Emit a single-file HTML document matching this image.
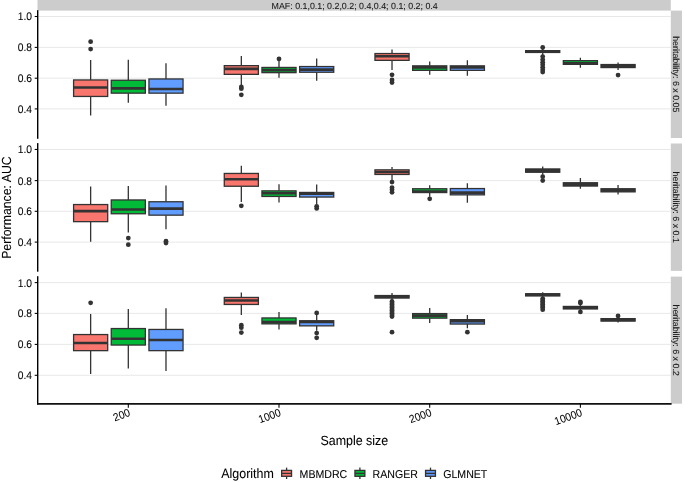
<!DOCTYPE html>
<html lang="en"><head><meta charset="utf-8"><title>Performance: AUC by sample size</title>
<style>html,body{margin:0;padding:0;background:#fff}svg{display:block}text{font-family:"Liberation Sans",Arial,Helvetica,sans-serif;fill:#000;text-rendering:geometricPrecision;stroke:#000;stroke-width:0.06px;stroke-linejoin:round}.at{font-size:10.3px}.lt{font-size:10.6px}.st{font-size:8.86px;fill:#1a1a1a;stroke:#1a1a1a;stroke-width:0.08px}.ti{font-size:12.45px}</style></head><body>
<svg width="685" height="482" viewBox="0 0 685 482">
<rect width="685" height="482" fill="#fff"/>
<rect x="37.5" y="-5" width="633.3" height="15.6" fill="#CCCCCC"/>
<text class="st" x="354.65" y="8.7" text-anchor="middle">MAF: 0.1,0.1; 0.2,0.2; 0.4,0.4; 0.1; 0.2; 0.4</text>
<rect x="670.8" y="10.6" width="11.20" height="127.40" fill="#CCCCCC"/>
<text class="st" transform="translate(673.2,74.30) rotate(90)" text-anchor="middle">heritability: 6 x 0.05</text>
<line x1="37.9" x2="670.8" y1="16.5" y2="16.5" stroke="#E2E2E2" stroke-width="0.8"/>
<line x1="37.9" x2="670.8" y1="47.4" y2="47.4" stroke="#E2E2E2" stroke-width="0.8"/>
<line x1="37.9" x2="670.8" y1="78.2" y2="78.2" stroke="#E2E2E2" stroke-width="0.8"/>
<line x1="37.9" x2="670.8" y1="108.9" y2="108.9" stroke="#E2E2E2" stroke-width="0.8"/>
<circle cx="90.64" cy="41.7" r="2.4" fill="#333333"/>
<circle cx="90.64" cy="49.1" r="2.4" fill="#333333"/>
<path d="M90.64 60.1V79.95M90.64 96.45V115.5" stroke="#333333" stroke-width="1.3" fill="none"/>
<rect x="73.59" y="79.95" width="34.1" height="16.50" fill="#F8766D" stroke="#333333" stroke-width="1.3"/>
<line x1="73.59" x2="107.69" y1="87.5" y2="87.5" stroke="#333333" stroke-width="2.6"/>
<path d="M128.31 59.8V80.25M128.31 93.15V102.7" stroke="#333333" stroke-width="1.3" fill="none"/>
<rect x="111.26" y="80.25" width="34.1" height="12.90" fill="#00BA38" stroke="#333333" stroke-width="1.3"/>
<line x1="111.26" x2="145.36" y1="88.4" y2="88.4" stroke="#333333" stroke-width="2.6"/>
<path d="M165.99 63.3V78.95M165.99 93.15V105.7" stroke="#333333" stroke-width="1.3" fill="none"/>
<rect x="148.94" y="78.95" width="34.1" height="14.20" fill="#619CFF" stroke="#333333" stroke-width="1.3"/>
<line x1="148.94" x2="183.04" y1="89.0" y2="89.0" stroke="#333333" stroke-width="2.6"/>
<circle cx="241.33" cy="86.9" r="2.4" fill="#333333"/>
<circle cx="241.33" cy="88.7" r="2.4" fill="#333333"/>
<circle cx="241.33" cy="94.8" r="2.4" fill="#333333"/>
<path d="M241.33 55.9V65.65M241.33 74.35V85.2" stroke="#333333" stroke-width="1.3" fill="none"/>
<rect x="224.28" y="65.65" width="34.1" height="8.70" fill="#F8766D" stroke="#333333" stroke-width="1.3"/>
<line x1="224.28" x2="258.38" y1="68.9" y2="68.9" stroke="#333333" stroke-width="2.6"/>
<circle cx="279.00" cy="58.9" r="2.4" fill="#333333"/>
<path d="M279.00 60.5V67.45M279.00 72.65V77.7" stroke="#333333" stroke-width="1.3" fill="none"/>
<rect x="261.95" y="67.45" width="34.1" height="5.20" fill="#00BA38" stroke="#333333" stroke-width="1.3"/>
<line x1="261.95" x2="296.05" y1="70.1" y2="70.1" stroke="#333333" stroke-width="2.6"/>
<path d="M316.68 58.6V66.55M316.68 72.25V80.8" stroke="#333333" stroke-width="1.3" fill="none"/>
<rect x="299.63" y="66.55" width="34.1" height="5.70" fill="#619CFF" stroke="#333333" stroke-width="1.3"/>
<line x1="299.63" x2="333.73" y1="69.6" y2="69.6" stroke="#333333" stroke-width="2.6"/>
<circle cx="392.02" cy="74.8" r="2.4" fill="#333333"/>
<circle cx="392.02" cy="79.9" r="2.4" fill="#333333"/>
<circle cx="392.02" cy="82.5" r="2.4" fill="#333333"/>
<path d="M392.02 49.4V53.55M392.02 60.35V69.9" stroke="#333333" stroke-width="1.3" fill="none"/>
<rect x="374.97" y="53.55" width="34.1" height="6.80" fill="#F8766D" stroke="#333333" stroke-width="1.3"/>
<line x1="374.97" x2="409.07" y1="56.3" y2="56.3" stroke="#333333" stroke-width="2.6"/>
<path d="M429.70 61.5V65.85M429.70 70.35V74.8" stroke="#333333" stroke-width="1.3" fill="none"/>
<rect x="412.65" y="65.85" width="34.1" height="4.50" fill="#00BA38" stroke="#333333" stroke-width="1.3"/>
<line x1="412.65" x2="446.75" y1="67.4" y2="67.4" stroke="#333333" stroke-width="2.6"/>
<path d="M467.37 60.3V65.85M467.37 70.35V75.7" stroke="#333333" stroke-width="1.3" fill="none"/>
<rect x="450.32" y="65.85" width="34.1" height="4.50" fill="#619CFF" stroke="#333333" stroke-width="1.3"/>
<line x1="450.32" x2="484.42" y1="67.4" y2="67.4" stroke="#333333" stroke-width="2.6"/>
<circle cx="542.71" cy="47.5" r="2.4" fill="#333333"/>
<circle cx="542.71" cy="56.6" r="2.4" fill="#333333"/>
<circle cx="542.71" cy="59.6" r="2.4" fill="#333333"/>
<circle cx="542.71" cy="62.2" r="2.4" fill="#333333"/>
<circle cx="542.71" cy="64.7" r="2.4" fill="#333333"/>
<circle cx="542.71" cy="67.3" r="2.4" fill="#333333"/>
<circle cx="542.71" cy="69.8" r="2.4" fill="#333333"/>
<circle cx="542.71" cy="72" r="2.4" fill="#333333"/>
<path d="M542.71 48.5V50.65M542.71 52.45V55" stroke="#333333" stroke-width="1.3" fill="none"/>
<rect x="525.66" y="50.65" width="34.1" height="1.80" fill="#333333" stroke="#333333" stroke-width="1.3"/>
<line x1="525.66" x2="559.76" y1="51.5" y2="51.5" stroke="#333333" stroke-width="2.6"/>
<path d="M580.39 57.7V60.65M580.39 64.35V67.7" stroke="#333333" stroke-width="1.3" fill="none"/>
<rect x="563.34" y="60.65" width="34.1" height="3.70" fill="#00BA38" stroke="#333333" stroke-width="1.3"/>
<line x1="563.34" x2="597.44" y1="63.4" y2="63.4" stroke="#333333" stroke-width="2.6"/>
<circle cx="618.06" cy="75.1" r="2.4" fill="#333333"/>
<path d="M618.06 62.4V64.55M618.06 67.55V70" stroke="#333333" stroke-width="1.3" fill="none"/>
<rect x="601.01" y="64.55" width="34.1" height="3.00" fill="#333333" stroke="#333333" stroke-width="1.3"/>
<line x1="601.01" x2="635.11" y1="66" y2="66" stroke="#333333" stroke-width="2.6"/>
<line x1="37.699999999999996" x2="37.699999999999996" y1="10.2" y2="138.8" stroke="#000" stroke-width="1.42"/>
<line x1="34.699999999999996" x2="37.4" y1="16.5" y2="16.5" stroke="#000" stroke-width="1.07"/>
<text class="at" transform="translate(32.0,20.45) scale(1,1.07)" text-anchor="end">1.0</text>
<line x1="34.699999999999996" x2="37.4" y1="47.4" y2="47.4" stroke="#000" stroke-width="1.07"/>
<text class="at" transform="translate(32.0,51.35) scale(1,1.07)" text-anchor="end">0.8</text>
<line x1="34.699999999999996" x2="37.4" y1="78.2" y2="78.2" stroke="#000" stroke-width="1.07"/>
<text class="at" transform="translate(32.0,82.15) scale(1,1.07)" text-anchor="end">0.6</text>
<line x1="34.699999999999996" x2="37.4" y1="108.9" y2="108.9" stroke="#000" stroke-width="1.07"/>
<text class="at" transform="translate(32.0,112.85) scale(1,1.07)" text-anchor="end">0.4</text>
<rect x="670.8" y="143.5" width="11.20" height="127.40" fill="#CCCCCC"/>
<text class="st" transform="translate(673.2,207.20) rotate(90)" text-anchor="middle">heritability: 6 x 0.1</text>
<line x1="37.9" x2="670.8" y1="149.45" y2="149.45" stroke="#E2E2E2" stroke-width="0.8"/>
<line x1="37.9" x2="670.8" y1="180.6" y2="180.6" stroke="#E2E2E2" stroke-width="0.8"/>
<line x1="37.9" x2="670.8" y1="211.3" y2="211.3" stroke="#E2E2E2" stroke-width="0.8"/>
<line x1="37.9" x2="670.8" y1="242.1" y2="242.1" stroke="#E2E2E2" stroke-width="0.8"/>
<path d="M90.64 186.4V204.55M90.64 221.65V241.7" stroke="#333333" stroke-width="1.3" fill="none"/>
<rect x="73.59" y="204.55" width="34.1" height="17.10" fill="#F8766D" stroke="#333333" stroke-width="1.3"/>
<line x1="73.59" x2="107.69" y1="211.1" y2="211.1" stroke="#333333" stroke-width="2.6"/>
<circle cx="128.31" cy="238.1" r="2.4" fill="#333333"/>
<circle cx="128.31" cy="244.7" r="2.4" fill="#333333"/>
<path d="M128.31 186V199.95M128.31 213.75V232.5" stroke="#333333" stroke-width="1.3" fill="none"/>
<rect x="111.26" y="199.95" width="34.1" height="13.80" fill="#00BA38" stroke="#333333" stroke-width="1.3"/>
<line x1="111.26" x2="145.36" y1="209.5" y2="209.5" stroke="#333333" stroke-width="2.6"/>
<circle cx="165.99" cy="241.2" r="2.4" fill="#333333"/>
<circle cx="165.99" cy="243" r="2.4" fill="#333333"/>
<path d="M165.99 185.5V201.75M165.99 215.15V229.3" stroke="#333333" stroke-width="1.3" fill="none"/>
<rect x="148.94" y="201.75" width="34.1" height="13.40" fill="#619CFF" stroke="#333333" stroke-width="1.3"/>
<line x1="148.94" x2="183.04" y1="208.6" y2="208.6" stroke="#333333" stroke-width="2.6"/>
<circle cx="241.33" cy="205.8" r="2.4" fill="#333333"/>
<path d="M241.33 165.8V173.45M241.33 186.25V202" stroke="#333333" stroke-width="1.3" fill="none"/>
<rect x="224.28" y="173.45" width="34.1" height="12.80" fill="#F8766D" stroke="#333333" stroke-width="1.3"/>
<line x1="224.28" x2="258.38" y1="179.2" y2="179.2" stroke="#333333" stroke-width="2.6"/>
<path d="M279.00 184.2V190.85M279.00 196.45V202.5" stroke="#333333" stroke-width="1.3" fill="none"/>
<rect x="261.95" y="190.85" width="34.1" height="5.60" fill="#00BA38" stroke="#333333" stroke-width="1.3"/>
<line x1="261.95" x2="296.05" y1="193.2" y2="193.2" stroke="#333333" stroke-width="2.6"/>
<circle cx="316.68" cy="206.3" r="2.4" fill="#333333"/>
<circle cx="316.68" cy="208.4" r="2.4" fill="#333333"/>
<path d="M316.68 184.6V192.45M316.68 197.05V204.6" stroke="#333333" stroke-width="1.3" fill="none"/>
<rect x="299.63" y="192.45" width="34.1" height="4.60" fill="#619CFF" stroke="#333333" stroke-width="1.3"/>
<line x1="299.63" x2="333.73" y1="193.7" y2="193.7" stroke="#333333" stroke-width="2.6"/>
<circle cx="392.02" cy="182.1" r="2.4" fill="#333333"/>
<circle cx="392.02" cy="187.6" r="2.4" fill="#333333"/>
<circle cx="392.02" cy="189.7" r="2.4" fill="#333333"/>
<circle cx="392.02" cy="192.3" r="2.4" fill="#333333"/>
<path d="M392.02 166.9V169.85M392.02 174.45V180" stroke="#333333" stroke-width="1.3" fill="none"/>
<rect x="374.97" y="169.85" width="34.1" height="4.60" fill="#F8766D" stroke="#333333" stroke-width="1.3"/>
<line x1="374.97" x2="409.07" y1="172.0" y2="172.0" stroke="#333333" stroke-width="2.6"/>
<circle cx="429.70" cy="198.8" r="2.4" fill="#333333"/>
<path d="M429.70 185.3V188.75M429.70 192.55V196.7" stroke="#333333" stroke-width="1.3" fill="none"/>
<rect x="412.65" y="188.75" width="34.1" height="3.80" fill="#00BA38" stroke="#333333" stroke-width="1.3"/>
<line x1="412.65" x2="446.75" y1="191.6" y2="191.6" stroke="#333333" stroke-width="2.6"/>
<path d="M467.37 183.2V188.55M467.37 194.85V202.8" stroke="#333333" stroke-width="1.3" fill="none"/>
<rect x="450.32" y="188.55" width="34.1" height="6.30" fill="#619CFF" stroke="#333333" stroke-width="1.3"/>
<line x1="450.32" x2="484.42" y1="192.6" y2="192.6" stroke="#333333" stroke-width="2.6"/>
<circle cx="542.71" cy="176.7" r="2.4" fill="#333333"/>
<circle cx="542.71" cy="180.6" r="2.4" fill="#333333"/>
<path d="M542.71 166.5V168.95M542.71 172.25V174.8" stroke="#333333" stroke-width="1.3" fill="none"/>
<rect x="525.66" y="168.95" width="34.1" height="3.30" fill="#333333" stroke="#333333" stroke-width="1.3"/>
<line x1="525.66" x2="559.76" y1="170.6" y2="170.6" stroke="#333333" stroke-width="2.6"/>
<path d="M580.39 177.9V182.75M580.39 186.05V188.8" stroke="#333333" stroke-width="1.3" fill="none"/>
<rect x="563.34" y="182.75" width="34.1" height="3.30" fill="#333333" stroke="#333333" stroke-width="1.3"/>
<line x1="563.34" x2="597.44" y1="184.4" y2="184.4" stroke="#333333" stroke-width="2.6"/>
<path d="M618.06 184.9V188.75M618.06 191.85V194.6" stroke="#333333" stroke-width="1.3" fill="none"/>
<rect x="601.01" y="188.75" width="34.1" height="3.10" fill="#333333" stroke="#333333" stroke-width="1.3"/>
<line x1="601.01" x2="635.11" y1="190.3" y2="190.3" stroke="#333333" stroke-width="2.6"/>
<line x1="37.699999999999996" x2="37.699999999999996" y1="143.1" y2="271.7" stroke="#000" stroke-width="1.42"/>
<line x1="34.699999999999996" x2="37.4" y1="149.45" y2="149.45" stroke="#000" stroke-width="1.07"/>
<text class="at" transform="translate(32.0,153.40) scale(1,1.07)" text-anchor="end">1.0</text>
<line x1="34.699999999999996" x2="37.4" y1="180.6" y2="180.6" stroke="#000" stroke-width="1.07"/>
<text class="at" transform="translate(32.0,184.55) scale(1,1.07)" text-anchor="end">0.8</text>
<line x1="34.699999999999996" x2="37.4" y1="211.3" y2="211.3" stroke="#000" stroke-width="1.07"/>
<text class="at" transform="translate(32.0,215.25) scale(1,1.07)" text-anchor="end">0.6</text>
<line x1="34.699999999999996" x2="37.4" y1="242.1" y2="242.1" stroke="#000" stroke-width="1.07"/>
<text class="at" transform="translate(32.0,246.05) scale(1,1.07)" text-anchor="end">0.4</text>
<rect x="670.8" y="276.6" width="11.20" height="127.10" fill="#CCCCCC"/>
<text class="st" transform="translate(673.2,340.15) rotate(90)" text-anchor="middle">heritability: 6 x 0.2</text>
<line x1="37.9" x2="670.8" y1="282.6" y2="282.6" stroke="#E2E2E2" stroke-width="0.8"/>
<line x1="37.9" x2="670.8" y1="313.4" y2="313.4" stroke="#E2E2E2" stroke-width="0.8"/>
<line x1="37.9" x2="670.8" y1="344.4" y2="344.4" stroke="#E2E2E2" stroke-width="0.8"/>
<line x1="37.9" x2="670.8" y1="375.3" y2="375.3" stroke="#E2E2E2" stroke-width="0.8"/>
<circle cx="90.64" cy="302.8" r="2.4" fill="#333333"/>
<path d="M90.64 314V334.55M90.64 350.65V374.1" stroke="#333333" stroke-width="1.3" fill="none"/>
<rect x="73.59" y="334.55" width="34.1" height="16.10" fill="#F8766D" stroke="#333333" stroke-width="1.3"/>
<line x1="73.59" x2="107.69" y1="343" y2="343" stroke="#333333" stroke-width="2.6"/>
<path d="M128.31 309.1V328.55M128.31 345.05V368.5" stroke="#333333" stroke-width="1.3" fill="none"/>
<rect x="111.26" y="328.55" width="34.1" height="16.50" fill="#00BA38" stroke="#333333" stroke-width="1.3"/>
<line x1="111.26" x2="145.36" y1="338.7" y2="338.7" stroke="#333333" stroke-width="2.6"/>
<path d="M165.99 308.3V329.45M165.99 350.65V371" stroke="#333333" stroke-width="1.3" fill="none"/>
<rect x="148.94" y="329.45" width="34.1" height="21.20" fill="#619CFF" stroke="#333333" stroke-width="1.3"/>
<line x1="148.94" x2="183.04" y1="340" y2="340" stroke="#333333" stroke-width="2.6"/>
<circle cx="241.33" cy="325.2" r="2.4" fill="#333333"/>
<circle cx="241.33" cy="327.7" r="2.4" fill="#333333"/>
<circle cx="241.33" cy="332.6" r="2.4" fill="#333333"/>
<path d="M241.33 292.6V297.45M241.33 304.45V315" stroke="#333333" stroke-width="1.3" fill="none"/>
<rect x="224.28" y="297.45" width="34.1" height="7.00" fill="#F8766D" stroke="#333333" stroke-width="1.3"/>
<line x1="224.28" x2="258.38" y1="300.5" y2="300.5" stroke="#333333" stroke-width="2.6"/>
<path d="M279.00 311.9V317.95M279.00 323.85V329.6" stroke="#333333" stroke-width="1.3" fill="none"/>
<rect x="261.95" y="317.95" width="34.1" height="5.90" fill="#00BA38" stroke="#333333" stroke-width="1.3"/>
<line x1="261.95" x2="296.05" y1="322" y2="322" stroke="#333333" stroke-width="2.6"/>
<circle cx="316.68" cy="312.9" r="2.4" fill="#333333"/>
<circle cx="316.68" cy="333.1" r="2.4" fill="#333333"/>
<circle cx="316.68" cy="337.8" r="2.4" fill="#333333"/>
<path d="M316.68 315V320.75M316.68 325.85V330.8" stroke="#333333" stroke-width="1.3" fill="none"/>
<rect x="299.63" y="320.75" width="34.1" height="5.10" fill="#619CFF" stroke="#333333" stroke-width="1.3"/>
<line x1="299.63" x2="333.73" y1="322" y2="322" stroke="#333333" stroke-width="2.6"/>
<circle cx="392.02" cy="301.5" r="2.4" fill="#333333"/>
<circle cx="392.02" cy="303" r="2.4" fill="#333333"/>
<circle cx="392.02" cy="304.5" r="2.4" fill="#333333"/>
<circle cx="392.02" cy="306" r="2.4" fill="#333333"/>
<circle cx="392.02" cy="307.5" r="2.4" fill="#333333"/>
<circle cx="392.02" cy="309" r="2.4" fill="#333333"/>
<circle cx="392.02" cy="310.5" r="2.4" fill="#333333"/>
<circle cx="392.02" cy="312" r="2.4" fill="#333333"/>
<circle cx="392.02" cy="313.5" r="2.4" fill="#333333"/>
<circle cx="392.02" cy="315" r="2.4" fill="#333333"/>
<circle cx="392.02" cy="316.6" r="2.4" fill="#333333"/>
<circle cx="392.02" cy="332.2" r="2.4" fill="#333333"/>
<path d="M392.02 293.1V295.55M392.02 298.05V300.5" stroke="#333333" stroke-width="1.3" fill="none"/>
<rect x="374.97" y="295.55" width="34.1" height="2.50" fill="#333333" stroke="#333333" stroke-width="1.3"/>
<line x1="374.97" x2="409.07" y1="296.8" y2="296.8" stroke="#333333" stroke-width="2.6"/>
<path d="M429.70 308V313.60M429.70 318.15V322.9" stroke="#333333" stroke-width="1.3" fill="none"/>
<rect x="412.65" y="313.60" width="34.1" height="4.55" fill="#00BA38" stroke="#333333" stroke-width="1.3"/>
<line x1="412.65" x2="446.75" y1="315.6" y2="315.6" stroke="#333333" stroke-width="2.6"/>
<circle cx="467.37" cy="332.2" r="2.4" fill="#333333"/>
<path d="M467.37 315V319.65M467.37 324.05V328.2" stroke="#333333" stroke-width="1.3" fill="none"/>
<rect x="450.32" y="319.65" width="34.1" height="4.40" fill="#619CFF" stroke="#333333" stroke-width="1.3"/>
<line x1="450.32" x2="484.42" y1="321.2" y2="321.2" stroke="#333333" stroke-width="2.6"/>
<circle cx="542.71" cy="298.6" r="2.4" fill="#333333"/>
<circle cx="542.71" cy="300" r="2.4" fill="#333333"/>
<circle cx="542.71" cy="301.5" r="2.4" fill="#333333"/>
<circle cx="542.71" cy="303" r="2.4" fill="#333333"/>
<circle cx="542.71" cy="304.5" r="2.4" fill="#333333"/>
<circle cx="542.71" cy="306" r="2.4" fill="#333333"/>
<circle cx="542.71" cy="307.5" r="2.4" fill="#333333"/>
<circle cx="542.71" cy="309.7" r="2.4" fill="#333333"/>
<path d="M542.71 292.3V293.75M542.71 295.95V297.5" stroke="#333333" stroke-width="1.3" fill="none"/>
<rect x="525.66" y="293.75" width="34.1" height="2.20" fill="#333333" stroke="#333333" stroke-width="1.3"/>
<line x1="525.66" x2="559.76" y1="294.8" y2="294.8" stroke="#333333" stroke-width="2.6"/>
<circle cx="580.39" cy="301.9" r="2.4" fill="#333333"/>
<circle cx="580.39" cy="303.1" r="2.4" fill="#333333"/>
<circle cx="580.39" cy="311.9" r="2.4" fill="#333333"/>
<path d="M580.39 304.5V306.45M580.39 308.95V310.5" stroke="#333333" stroke-width="1.3" fill="none"/>
<rect x="563.34" y="306.45" width="34.1" height="2.50" fill="#333333" stroke="#333333" stroke-width="1.3"/>
<line x1="563.34" x2="597.44" y1="307.7" y2="307.7" stroke="#333333" stroke-width="2.6"/>
<circle cx="618.06" cy="315.9" r="2.4" fill="#333333"/>
<path d="M618.06 316.8V318.65M618.06 321.05V322.6" stroke="#333333" stroke-width="1.3" fill="none"/>
<rect x="601.01" y="318.65" width="34.1" height="2.40" fill="#333333" stroke="#333333" stroke-width="1.3"/>
<line x1="601.01" x2="635.11" y1="319.9" y2="319.9" stroke="#333333" stroke-width="2.6"/>
<line x1="37.699999999999996" x2="37.699999999999996" y1="276.20000000000005" y2="404.5" stroke="#000" stroke-width="1.42"/>
<line x1="34.699999999999996" x2="37.4" y1="282.6" y2="282.6" stroke="#000" stroke-width="1.07"/>
<text class="at" transform="translate(32.0,286.55) scale(1,1.07)" text-anchor="end">1.0</text>
<line x1="34.699999999999996" x2="37.4" y1="313.4" y2="313.4" stroke="#000" stroke-width="1.07"/>
<text class="at" transform="translate(32.0,317.35) scale(1,1.07)" text-anchor="end">0.8</text>
<line x1="34.699999999999996" x2="37.4" y1="344.4" y2="344.4" stroke="#000" stroke-width="1.07"/>
<text class="at" transform="translate(32.0,348.35) scale(1,1.07)" text-anchor="end">0.6</text>
<line x1="34.699999999999996" x2="37.4" y1="375.3" y2="375.3" stroke="#000" stroke-width="1.07"/>
<text class="at" transform="translate(32.0,379.25) scale(1,1.07)" text-anchor="end">0.4</text>
<line x1="37.0" x2="671.5999999999999" y1="403.95" y2="403.95" stroke="#111" stroke-width="1.8"/>
<line x1="128.31" x2="128.31" y1="403.7" y2="407.7" stroke="#000" stroke-width="1.07"/>
<text class="at" transform="translate(130.91,415.50) rotate(-20) scale(1,1.07)" text-anchor="end">200</text>
<line x1="279.00" x2="279.00" y1="403.7" y2="407.7" stroke="#000" stroke-width="1.07"/>
<text class="at" transform="translate(281.60,415.50) rotate(-20) scale(1,1.07)" text-anchor="end">1000</text>
<line x1="429.70" x2="429.70" y1="403.7" y2="407.7" stroke="#000" stroke-width="1.07"/>
<text class="at" transform="translate(432.30,415.50) rotate(-20) scale(1,1.07)" text-anchor="end">2000</text>
<line x1="580.39" x2="580.39" y1="403.7" y2="407.7" stroke="#000" stroke-width="1.07"/>
<text class="at" transform="translate(582.99,415.50) rotate(-20) scale(1,1.07)" text-anchor="end">10000</text>
<text class="ti" transform="translate(354.35,444.6) scale(1,1.07)" text-anchor="middle">Sample size</text>
<text class="ti" style="font-size:12.3px" transform="translate(11.4,207.6) rotate(-90) scale(1,1.07)" text-anchor="middle">Performance: AUC</text>
<text class="ti" transform="translate(221.3,477.6) scale(1,1.07)">Algorithm</text>
<path d="M286.6 467.6V479.0" stroke="#333333" stroke-width="1.3"/>
<rect x="281.65000000000003" y="470.4" width="9.9" height="5.9" fill="#F8766D" stroke="#333333" stroke-width="1.3"/>
<line x1="281.6" x2="291.6" y1="473.4" y2="473.4" stroke="#333333" stroke-width="1.3"/>
<text class="lt" transform="translate(299.6,477.5) scale(1,1.07)">MBMDRC</text>
<path d="M359.9 467.6V479.0" stroke="#333333" stroke-width="1.3"/>
<rect x="354.95" y="470.4" width="9.9" height="5.9" fill="#00BA38" stroke="#333333" stroke-width="1.3"/>
<line x1="354.9" x2="364.9" y1="473.4" y2="473.4" stroke="#333333" stroke-width="1.3"/>
<text class="lt" transform="translate(372.6,477.5) scale(1,1.07)">RANGER</text>
<path d="M430.5 467.6V479.0" stroke="#333333" stroke-width="1.3"/>
<rect x="425.55" y="470.4" width="9.9" height="5.9" fill="#619CFF" stroke="#333333" stroke-width="1.3"/>
<line x1="425.5" x2="435.5" y1="473.4" y2="473.4" stroke="#333333" stroke-width="1.3"/>
<text class="lt" transform="translate(443.2,477.5) scale(1,1.07)">GLMNET</text>
</svg></body></html>
